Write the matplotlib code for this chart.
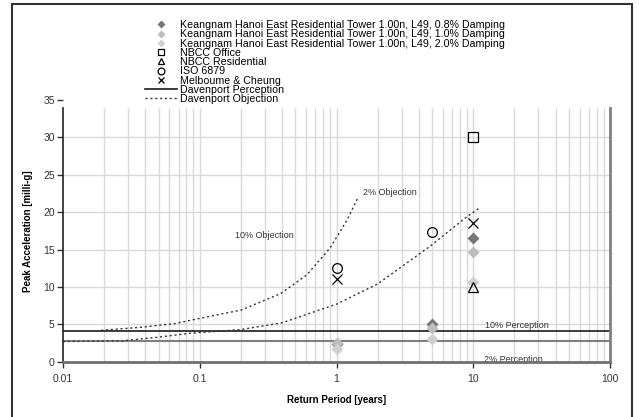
import matplotlib.pyplot as plt
from matplotlib.patches import Rectangle

plt.rcParams['font.family'] = ['Liberation Sans', 'DejaVu Sans']

# Keangnam tower peak accelerations, by damping
periods = [1, 5, 10]
damp_08 = [2.4, 5.0, 16.6]
damp_10 = [2.45, 4.5, 14.7]
damp_20 = [1.7, 3.1, 10.6]

# criteria points
nbcc_office_x = [10]
nbcc_office_y = [30]
nbcc_res_x = [10]
nbcc_res_y = [10]
iso_x = [1, 5]
iso_y = [12.5, 17.3]
melb_x = [1, 10]
melb_y = [11.0, 18.6]

# Davenport perception levels (horizontal)
perc_10 = 4.1
perc_02 = 2.8

# Davenport objection curves
obj2_x = [0.019, 0.037, 0.066, 0.1, 0.2, 0.39, 0.606, 0.897, 1.19, 1.45]
obj2_y = [4.2, 4.6, 5.1, 5.8, 6.9, 9.1, 11.6, 15.2, 18.9, 22.1]
obj10_x = [0.01, 0.0275, 0.048, 0.085, 0.2, 0.4, 1.0, 2.0, 4.8, 9.0, 11.0]
obj10_y = [2.7, 2.8, 3.25, 3.8, 4.3, 5.2, 7.7, 10.4, 15.4, 19.4, 20.5]

xticks = [0.01, 0.1, 1, 10, 100]
xlabels = ['0.01', '0.1', '1', '10', '100']
yticks = [0, 5, 10, 15, 20, 25, 30, 35]

fig = plt.figure(figsize=(6.39, 4.17), dpi=100)
ax = fig.add_axes([63 / 639, 1 - 361.7 / 417, (610 - 63) / 639, (361.7 - 100) / 417])
ax.set_xscale('log')
ax.set_xlim(0.01, 100)
ax.set_ylim(0, 35)

top = 33.9
grid_c = '#d9d9d9'
# vertical grid at every log step
gx = [k * 10.0 ** d for d in range(-2, 2) for k in range(1, 10)][1:]
ax.vlines(gx, 0, top, color=grid_c, lw=1, zorder=0)
ax.hlines(yticks[1:-1], 0.01, 100, color=grid_c, lw=1, zorder=0)

# Davenport lines
ax.plot([0.01, 100], [perc_10, perc_10], color='#1a1a1a', lw=1.2, label='Davenport Perception', zorder=1)
ax.plot([0.01, 100], [perc_02, perc_02], color='#808080', lw=1.5, label='_nolegend_', zorder=1)
ax.plot(obj10_x, obj10_y, color='#333333', lw=1, ls=(0, (1.5, 2)), label='Davenport Objection', zorder=1)
ax.plot(obj2_x, obj2_y, color='#333333', lw=1, ls=(0, (1.5, 2)), label='_nolegend_', zorder=1)

# tower results
ax.plot(periods, damp_08, 'D', ms=6.5, color='#767676', mec='none',
        label='Keangnam Hanoi East Residential Tower 1.00n, L49, 0.8% Damping', zorder=3)
ax.plot(periods, damp_10, 'D', ms=6.5, color='#bdbdbd', mec='none',
        label='Keangnam Hanoi East Residential Tower 1.00n, L49, 1.0% Damping', zorder=3)
ax.plot(periods, damp_20, 'D', ms=6.5, color='#d0d0d0', mec='none',
        label='Keangnam Hanoi East Residential Tower 1.00n, L49, 2.0% Damping', zorder=3)

# criteria
ax.plot(nbcc_office_x, nbcc_office_y, 's', ms=7, mfc='none', mec='black', mew=0.9,
        label='NBCC Office', zorder=4)
ax.plot(nbcc_res_x, nbcc_res_y, '^', ms=7, mfc='none', mec='black', mew=0.9,
        label='NBCC Residential', zorder=4)
ax.plot(iso_x, iso_y, 'o', ms=7, mfc='none', mec='black', mew=0.9,
        label='ISO 6879', zorder=4)
ax.plot(melb_x, melb_y, 'x', ms=7, color='black', mew=0.9,
        label='Melboume & Cheung', zorder=4)

# curve labels
tc = '#333333'
ax.text(0.181, 16.9, '10% Objection', fontsize=6.5, color=tc, va='center')
ax.text(1.55, 22.6, '2% Objection', fontsize=6.5, color=tc, va='center')
ax.text(12.2, 4.8, '10% Perception', fontsize=6.5, color=tc, va='center')
ax.text(12.0, 0.3, '2% Perception', fontsize=6.5, color=tc, va='center', zorder=1)

# axes styling
ax.spines['top'].set_visible(False)
ax.spines['left'].set_bounds(0, top)
ax.spines['left'].set_color('#222222')
ax.spines['left'].set_linewidth(1.2)
ax.spines['right'].set_bounds(0, top)
ax.spines['right'].set_color('#808080')
ax.spines['right'].set_linewidth(2)
ax.spines['bottom'].set_color('#707070')
ax.spines['bottom'].set_linewidth(2)

ax.set_xticks(xticks)
ax.set_xticklabels(xlabels)
ax.xaxis.set_minor_locator(plt.NullLocator())
ax.set_yticks(yticks)
ax.tick_params(axis='both', labelsize=7.5, labelcolor='#333333', direction='out',
               length=4, width=1, color='#333333')
ax.tick_params(axis='x', pad=5)
ax.tick_params(axis='y', pad=2)

ax.set_xlabel('Return Period [years]', fontsize=7, fontweight='bold', labelpad=8)
ax.set_ylabel('Peak Acceleration [milli-g]', fontsize=7, fontweight='bold', labelpad=7)

# legend: reorder so markers come first, then lines
handles, labels = ax.get_legend_handles_labels()
order = [2, 3, 4, 5, 6, 7, 8, 0, 1]
fig.legend([handles[i] for i in order], [labels[i] for i in order],
           loc='upper left', bbox_to_anchor=(145 / 639, 1 - 20 / 417),
           frameon=False, fontsize=7.7, handlelength=3.0, handletextpad=0.3,
           labelspacing=-0.07, borderpad=0, borderaxespad=0, markerscale=0.7)

# outer chart border
fig.patches.append(Rectangle((12 / 639, -0.1), (632 - 12) / 639, 1.1 - 4 / 417,
                             transform=fig.transFigure, fill=False,
                             edgecolor='#333333', lw=1.5))

fig.savefig('out.png', dpi=100)
